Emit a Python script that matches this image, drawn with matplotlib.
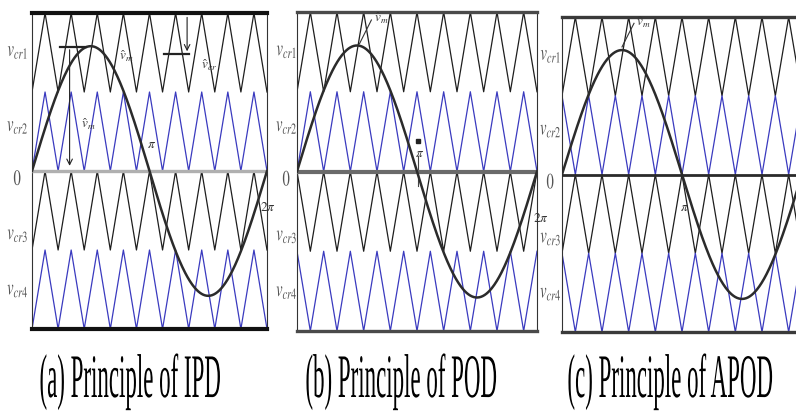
import numpy as np
import matplotlib.pyplot as plt
from matplotlib import patheffects
from matplotlib.transforms import Affine2D

plt.rcParams["mathtext.fontset"] = "stix"

# values
captions = ["(a) Principle of IPD", "(b) Principle of POD", "(c) Principle of APOD"]
schemes = ["IPD", "POD", "APOD"]
carrier_cycles = 9          # carrier periods in one reference period
sine_peak = 1.58            # reference amplitude, one carrier band = 1
band_low = [1, 0, -1, -2]   # lower edge of v_cr1 ... v_cr4
band_colors = ["#1e1e1e", "#3a3abf", "#1e1e1e", "#3a3abf"]
# 0 = carrier starts at its trough on the left edge, 1 = starts at its peak
start_at_peak = {
    "IPD": [0, 0, 0, 0],
    "POD": [0, 0, 1, 1],
    "APOD": [0, 1, 0, 1],
}
side_labels = [r"$v_{cr1}$", r"$v_{cr2}$", r"$0$", r"$v_{cr3}$", r"$v_{cr4}$"]
side_label_y = [1.5, 0.55, -0.12, -0.82, -1.52]


class TallText(patheffects.AbstractPathEffect):
    """Stretch glyphs upward from the baseline (the scan is squashed sideways)."""

    def __init__(self, sy):
        super().__init__()
        self.sy = sy

    def draw_path(self, renderer, gc, tpath, affine, rgbFace=None):
        renderer.draw_path(gc, tpath, (Affine2D().scale(1, self.sy) + affine).frozen(), rgbFace)


W, H = 796, 414
# left, top, width, height of each panel in pixels
boxes = [(32, 14, 235, 316), (297, 13, 240, 319), (562, 18, 240, 315)]
edge_style = [("#111111", 3.0), ("#4a4a4a", 2.4), ("#3a3a3a", 2.4)]
zero_style = [("#b0b0b0", 2.4), ("#6a6a6a", 3.0), ("#2a2a2a", 2.0)]
caption_x = [130, 401, 670]
label_x = [18, 287, 551]

fig = plt.figure(figsize=(W / 100, H / 100), dpi=100)
fig.patch.set_facecolor("white")

axes = []
for i, name in enumerate(schemes):
    left, top, w, h = boxes[i]
    ax = fig.add_axes([left / W, 1 - (top + h) / H, w / W, h / H])
    axes.append(ax)

    # carriers: straight lines between troughs and peaks
    n = 2 * carrier_cycles
    xv = np.linspace(0, 1, n + 1)
    for k, low in enumerate(band_low):
        up = np.arange(n + 1) % 2
        if start_at_peak[name][k]:
            up = 1 - up
        ax.plot(xv, low + up, color=band_colors[k], lw=0.9, zorder=2)

    # reference sine
    t = np.linspace(0, 1, 400)
    ax.plot(t, sine_peak * np.sin(2 * np.pi * t), color="#2b2b2b", lw=1.8, zorder=4)

    zc, zw = zero_style[i]
    ax.axhline(0, color=zc, lw=zw, zorder=3)

    ax.set_xlim(0, 1)
    ax.set_ylim(-2, 2)
    ax.set_xticks([])
    ax.set_yticks([])
    ec, ew = edge_style[i]
    for side in ["top", "bottom"]:
        ax.spines[side].set_color(ec)
        ax.spines[side].set_linewidth(ew)
    for side in ["left", "right"]:
        ax.spines[side].set_color("#333333")
        ax.spines[side].set_linewidth(0.8)

    for lab, ly in zip(side_labels, side_label_y):
        ax.text((label_x[i] - left) / w, ly, lab, ha="center", va="center",
                fontsize=10.5, color="#555555", path_effects=[TallText(1.5)])

    fig.text(caption_x[i] / W, 1 - 398 / H, captions[i], ha="center", va="baseline",
             family="Liberation Serif", fontsize=16.5, color="black",
             path_effects=[TallText(2.7)])

ann = dict(fontsize=9.5, color="#333333")

# (a) IPD annotations
ax = axes[0]
ax.plot([0.12, 0.23], [1.57, 1.57], color="#222222", lw=1.6, zorder=5)
ax.annotate("", xy=(0.16, 0.03), xytext=(0.16, 1.57),
            arrowprops=dict(arrowstyle="->", color="#222222", lw=0.8))
ax.text(0.21, 0.55, r"$\hat{v}_m$", **ann)
ax.text(0.37, 1.42, r"$\hat{v}_m$", **ann)
ax.plot([0.56, 0.67], [1.48, 1.48], color="#222222", lw=1.6, zorder=5)
ax.annotate("", xy=(0.66, 1.48), xytext=(0.66, 1.98),
            arrowprops=dict(arrowstyle="->", color="#222222", lw=0.8))
ax.text(0.72, 1.3, r"$\hat{v}_{cr}$", **ann)
ax.text(0.49, 0.3, r"$\pi$", **ann)
ax.text(0.97, -0.5, r"$2\pi$", **ann)

# (b) POD annotations
ax = axes[1]
ax.plot([0.26, 0.31], [1.6, 1.9], color="#333333", lw=0.8)
ax.text(0.32, 1.88, r"$\hat{v}_m$", **ann)
ax.plot([0.504], [0.38], marker="s", ms=2.5, color="#222222")
ax.plot([0.504, 0.504], [0.2, -0.18], color="#444444", lw=0.8)
ax.text(0.49, 0.2, r"$\pi$", **ann)
ax.text(0.985, -0.62, r"$2\pi$", **ann)

# (c) APOD annotations
ax = axes[2]
ax.plot([0.25, 0.3], [1.62, 1.92], color="#333333", lw=0.8)
ax.text(0.31, 1.9, r"$\hat{v}_m$", **ann)
ax.text(0.49, -0.45, r"$\pi$", **ann)

fig.savefig("out.png", dpi=100)
